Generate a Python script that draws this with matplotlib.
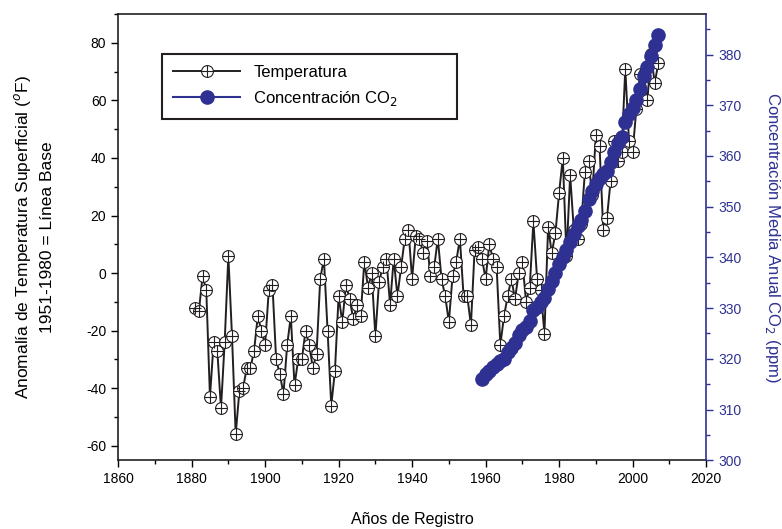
import numpy as np
import matplotlib
matplotlib.use("Agg")
import matplotlib.pyplot as plt
from matplotlib.ticker import MultipleLocator
from matplotlib.lines import Line2D
from matplotlib.legend_handler import HandlerTuple

plt.rcParams['font.family'] = ['Liberation Sans', 'DejaVu Sans']
plt.rcParams['axes.unicode_minus'] = False

# Temperature anomaly per year, 1881-2007
temp_years = np.arange(1881, 2008)
temp = [
    -12, -13, -1, -6, -43, -24, -27, -47, -24, 6,      # 1881-1890
    -22, -56, -41, -40, -33, -33, -27, -15, -20, -25,  # 1891-1900
    -6, -4, -30, -35, -42, -25, -15, -39, -30, -30,    # 1901-1910
    -20, -25, -33, -28, -2, 5, -20, -46, -34, -8,      # 1911-1920
    -17, -4, -9, -16, -11, -15, 4, -5, 0, -22,         # 1921-1930
    -3, 2, 5, -11, 5, -8, 2, 12, 15, -2,               # 1931-1940
    13, 12, 7, 11, -1, 2, 12, -2, -8, -17,             # 1941-1950
    -1, 4, 12, -8, -8, -18, 8, 9, 5, -2,               # 1951-1960
    10, 5, 2, -25, -15, -8, -2, -9, 0, 4,              # 1961-1970
    -10, -5, 18, -2, -6, -21, 16, 7, 14, 28,           # 1971-1980
    40, 6, 34, 15, 12, 17, 35, 39, 27, 48,             # 1981-1990
    44, 15, 19, 32, 46, 39, 42, 71, 46, 42,            # 1991-2000
    57, 69, 69, 60, 76, 66, 73,                        # 2001-2007
]

# Annual mean CO2 (ppm), 1959-2007
co2_years = np.arange(1959, 2008)
co2 = [
    315.98, 316.91, 317.64, 318.45, 318.99, 319.62, 320.04, 321.38, 322.16, 323.04,
    324.62, 325.68, 326.32, 327.45, 329.68, 330.18, 331.11, 332.04, 333.83, 335.40,
    336.84, 338.75, 340.11, 341.45, 343.05, 344.65, 346.12, 347.42, 349.19, 351.57,
    353.12, 354.39, 355.61, 356.45, 357.10, 358.83, 360.82, 362.61, 363.73, 366.70,
    368.38, 369.55, 371.14, 373.28, 375.80, 377.52, 379.80, 381.90, 383.79,
]

black = '#231f20'
blue = '#2e3192'

fig = plt.figure(figsize=(7.82, 5.29), dpi=100)
ax = fig.add_axes([0.151, 0.130, 0.752, 0.8435])

# temperature line with circled-plus markers
ax.plot(temp_years, temp, color=black, lw=1.4, zorder=2)
ax.plot(temp_years, temp, ls='none', marker='o', ms=8.5, mfc='white',
        mec=black, mew=0.8, zorder=3)
ax.plot(temp_years, temp, ls='none', marker='+', ms=8, mec=black,
        mew=0.8, zorder=4)

ax.set_xlim(1860, 2020)
ax.set_ylim(-65, 90)
ax.xaxis.set_major_locator(MultipleLocator(20))
ax.xaxis.set_minor_locator(MultipleLocator(10))
ax.set_yticks(np.arange(-60, 81, 20))
ax.yaxis.set_minor_locator(MultipleLocator(10))
ax.tick_params(which='both', direction='out', top=False, right=False,
               labelsize=10, width=1)
ax.tick_params(which='major', length=5)
ax.tick_params(which='minor', length=3)
ax.spines['right'].set_visible(False)
for s in ['left', 'top', 'bottom']:
    ax.spines[s].set_linewidth(1.2)
    ax.spines[s].set_color(black)

ax.set_xlabel('Años de Registro', fontsize=11.5, labelpad=19)
ax.set_ylabel('Anomalía de Temperatura Superficial ($^{o}$F)\n1951-1980 = Línea Base',
              fontsize=12.5, linespacing=1.6, labelpad=22)

# CO2 on the right axis
ax2 = ax.twinx()
ax2.plot(co2_years, co2, color=blue, lw=1.5, marker='o', ms=9.5, mec=blue, mfc=blue)
ax2.set_ylim(300, 388)
ax2.set_yticks(np.arange(300, 381, 10))
ax2.yaxis.set_minor_locator(MultipleLocator(5))
ax2.tick_params(axis='y', which='both', direction='out', colors=blue,
                labelsize=10, width=1)
ax2.tick_params(axis='y', which='major', length=5)
ax2.tick_params(axis='y', which='minor', length=3)
for s in ['left', 'top', 'bottom']:
    ax2.spines[s].set_visible(False)
ax2.spines['right'].set_color(blue)
ax2.spines['right'].set_linewidth(1.2)
ax2.set_ylabel('Concentración Media Anual CO$_2$ (ppm)', color=blue,
               fontsize=12, rotation=270, labelpad=29)

# legend
h_temp = (Line2D([], [], color=black, lw=1.4, marker='o', ms=8.5, mfc='white',
                 mec=black, mew=0.8),
          Line2D([], [], ls='none', marker='+', ms=8, mec=black, mew=0.8))
h_co2 = Line2D([], [], color=blue, lw=1.5, marker='o', ms=9.5, mec=blue, mfc=blue)
leg = ax2.legend([h_temp, h_co2], ['Temperatura', 'Concentración CO$_2$'],
                 handler_map={tuple: HandlerTuple(ndivide=1, pad=0)},
                 loc='upper left', bbox_to_anchor=(0.06, 0.756, 0.53, 0.174),
                 mode='expand', fontsize=12, handlelength=4.0,
                 borderpad=0.7, labelspacing=0.5, fancybox=False,
                 edgecolor=black, framealpha=1)
leg.get_frame().set_linewidth(1.5)

fig.savefig('out.png', dpi=100)
